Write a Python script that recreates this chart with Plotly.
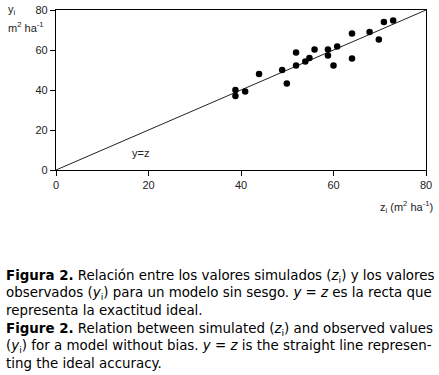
import plotly.graph_objects as go

# Data
z_sim = [38.8, 38.8, 40.9, 43.9, 48.9, 49.9, 51.9, 51.9, 53.9, 54.8, 55.9,
         58.8, 58.8, 60.0, 60.8, 64.0, 64.0, 67.8, 69.8, 70.9, 72.9]
y_obs = [40.0, 37.0, 39.2, 48.0, 50.0, 43.3, 58.8, 52.3, 54.3, 56.0, 60.2,
         60.2, 57.3, 52.2, 61.8, 68.2, 55.8, 69.0, 65.3, 74.0, 74.8]
line_z = [0, 80]
line_y = [0, 80]
tick_vals = [0, 20, 40, 60, 80]

W, H = 439, 375
L, R, T, B = 56, 13, 10, 205
pw = W - L - R
ph = H - T - B

def px2x(px):
    return (px - L) / pw

def py2y(py):
    return (H - B - py) / ph

fig = go.Figure()
fig.add_trace(go.Scatter(x=line_z, y=line_y, mode="lines",
                         line=dict(color="#222", width=1), hoverinfo="skip",
                         showlegend=False))
fig.add_trace(go.Scatter(x=z_sim, y=y_obs, mode="markers",
                         marker=dict(color="black", size=6.5), showlegend=False))

axis_common = dict(range=[0, 80], tickvals=tick_vals, ticks="outside", ticklen=5,
                   tickwidth=1, tickcolor="black", showline=True, linecolor="black",
                   linewidth=1.3, mirror=True, showgrid=False, zeroline=False,
                   automargin=False,
                   tickfont=dict(family="Liberation Sans", size=11, color="#222"))
fig.update_xaxes(**axis_common)
fig.update_yaxes(**axis_common)

ann = []
chart_font = dict(family="Liberation Sans", size=11, color="#222")
ann.append(dict(x=18.3, y=8.5, xref="x", yref="y", text="y=z", showarrow=False,
                font=chart_font))
ann.append(dict(x=px2x(6), y=py2y(10), xref="paper", yref="paper", xanchor="left",
                yanchor="middle", text="y<sub>i</sub>", showarrow=False, font=chart_font))
ann.append(dict(x=px2x(6), y=py2y(27), xref="paper", yref="paper", xanchor="left",
                yanchor="middle", text="m<sup>2</sup> ha<sup>-1</sup>", showarrow=False,
                font=chart_font))
ann.append(dict(x=px2x(435), y=py2y(207), xref="paper", yref="paper", xanchor="right",
                yanchor="middle", text="z<sub>i</sub> (m<sup>2</sup> ha<sup>-1</sup>)",
                showarrow=False, font=chart_font))

cap_font = dict(family="DejaVu Sans", size=13.4, color="black")
caption_lines = [
    ("<b>Figura 2.</b> Relación entre los valores simulados (<i>z</i><sub>i</sub>) y los valores", 276),
    ("observados (<i>y</i><sub>i</sub>) para un modelo sin sesgo. <i>y</i> = <i>z</i> es la recta que", 293),
    ("representa la exactitud ideal.", 310),
    ("<b>Figure 2.</b> Relation between simulated (<i>z</i><sub>i</sub>) and observed values", 329),
    ("(<i>y</i><sub>i</sub>) for a model without bias. <i>y</i> = <i>z</i> is the straight line represen-", 346),
    ("ting the ideal accuracy.", 363),
]
for txt, py in caption_lines:
    ann.append(dict(x=px2x(4), y=py2y(py), xref="paper", yref="paper", xanchor="left",
                    yanchor="middle", text=txt, showarrow=False, font=cap_font))

fig.update_layout(width=W, height=H, margin=dict(l=L, r=R, t=T, b=B, autoexpand=False),
                  paper_bgcolor="white", plot_bgcolor="white", annotations=ann)
fig.write_html("out.html", config={"displayModeBar": False},
               post_script="document.body.style.margin='0';document.body.style.padding='0';document.body.style.overflow='hidden';")
